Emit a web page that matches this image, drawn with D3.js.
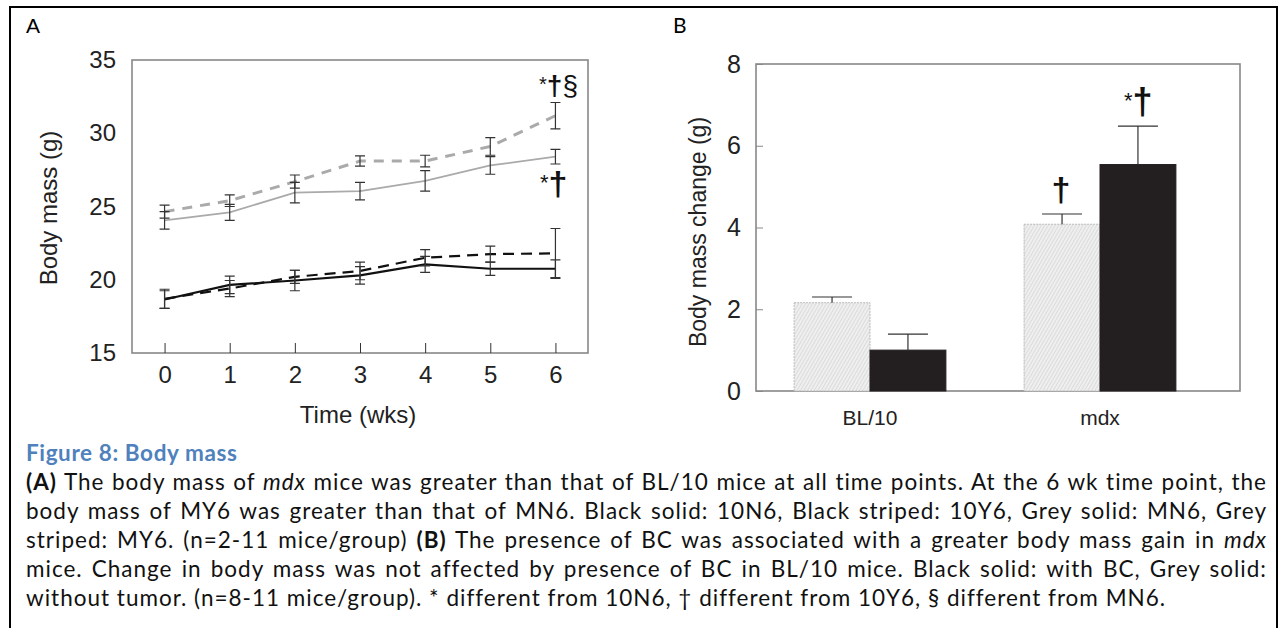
<!DOCTYPE html>
<html>
<head>
<meta charset="utf-8">
<title>Figure 8: Body mass</title>
<script src="https://d3js.org/d3.v7.min.js"></script>
<style>
    body { margin: 0; background: #fff; }
    svg { position: absolute; left: 0; top: 0; }
    .chart text { font-family: "Liberation Sans", Arial, sans-serif; fill: #222; }
    .frame { fill: none; stroke: #888; stroke-width: 1.6px; }
    .err { stroke: #333; stroke-width: 1.2px; fill: none; }
    .caption { position: absolute; left: 26px; width: 1241px; font-family: Lato, "Open Sans", sans-serif;
               font-size: 22.5px; letter-spacing: 1px; color: #111; white-space: nowrap; }
    .caption div { height: 29px; line-height: 29px; text-align: justify; text-align-last: justify; white-space: normal; }
    .caption div.last { text-align-last: left; }
    .caption .ttl { color: #4f81bd; font-weight: bold; text-align-last: left; letter-spacing: 0.6px; }
</style>
</head>
<body>
<svg width="1284" height="628"></svg>
<script>
    // panel A: body mass over time
    var weeks = [0, 1, 2, 3, 4, 5, 6];
    var blackSolid = [18.65, 19.65, 19.95, 20.3, 21.05, 20.75, 20.75];   // 10N6
    var blackSolidErr = [0.6, 0.6, 0.7, 0.6, 0.55, 0.45, 0.6];
    var blackDashed = [18.7, 19.4, 20.2, 20.6, 21.5, 21.75, 21.8];      // 10Y6
    var blackDashedErr = [0.65, 0.55, 0.45, 0.6, 0.55, 0.55, 1.7];
    var greySolid = [24.05, 24.6, 25.95, 26.05, 26.75, 27.8, 28.4];     // MN6
    var greySolidErr = [0.6, 0.55, 0.7, 0.6, 0.7, 0.6, 0.5];
    var greyDashed = [24.65, 25.4, 26.7, 28.1, 28.1, 29.1, 31.2];       // MY6
    var greyDashedErr = [0.45, 0.4, 0.45, 0.35, 0.4, 0.6, 0.9];
    var yTicksA = [15, 20, 25, 30, 35];

    // panel B: body mass change
    var groups = ["BL/10", "mdx"];
    var withoutTumor = [2.16, 4.08];
    var withoutTumorErr = [0.14, 0.25];
    var withBC = [1.0, 5.54];
    var withBCErr = [0.39, 0.94];
    var yTicksB = [0, 2, 4, 6, 8];

    var svg = d3.select("svg").attr("class", "chart");

    // page border
    svg.append("rect").attr("x", 10).attr("y", 7).attr("width", 1267).attr("height", 660)
        .attr("fill", "none").attr("stroke", "#000").attr("stroke-width", 2);

    // ---------- A ----------
    var x = d3.scaleLinear().domain([-0.5, 6.5]).range([132, 588]);
    var y = d3.scaleLinear().domain([15, 35]).range([353, 60]);

    svg.append("text").attr("x", 26).attr("y", 33).style("font-size", "21px").style("fill", "#000").text("A");

    var gA = svg.append("g");
    gA.append("rect").attr("class", "frame")
        .attr("x", x.range()[0]).attr("y", y.range()[1])
        .attr("width", x.range()[1] - x.range()[0]).attr("height", y.range()[0] - y.range()[1]);

    var xAxis = gA.append("g").attr("transform", "translate(0," + y(15) + ")")
        .call(d3.axisBottom(x).tickValues(weeks).tickSize(-10).tickPadding(13).tickFormat(d3.format("d")));
    xAxis.select(".domain").remove();
    xAxis.selectAll("line").attr("stroke", "#333");
    xAxis.selectAll("text").style("font-size", "24px");

    var yAxis = gA.append("g").attr("transform", "translate(" + x(-0.5) + ",0)")
        .call(d3.axisLeft(y).tickValues(yTicksA).tickSize(0).tickPadding(16));
    yAxis.select(".domain").remove();
    yAxis.selectAll("text").style("font-size", "24px");

    gA.append("text").attr("x", 358).attr("y", 423).attr("text-anchor", "middle")
        .style("font-size", "24px").text("Time (wks)");
    gA.append("text").attr("transform", "translate(57,208) rotate(-90)").attr("text-anchor", "middle")
        .style("font-size", "24px").text("Body mass (g)");

    var seriesA = [
        { v: greySolid, e: greySolidErr, color: "#aaa", w: 1.8, dash: null },
        { v: greyDashed, e: greyDashedErr, color: "#aaa", w: 3, dash: "10,8" },
        { v: blackDashed, e: blackDashedErr, color: "#111", w: 2.2, dash: "11,7" },
        { v: blackSolid, e: blackSolidErr, color: "#111", w: 2.2, dash: null }
    ];

    var line = d3.line().x(function (d, i) { return x(weeks[i]); }).y(function (d) { return y(d); });

    seriesA.forEach(function (s) {
        gA.append("path").datum(s.v)
            .attr("d", line)
            .attr("fill", "none")
            .attr("stroke", s.color)
            .attr("stroke-width", s.w)
            .attr("stroke-dasharray", s.dash);
    });

    seriesA.forEach(function (s) {
        gA.append("g").selectAll("path").data(s.v).enter().append("path")
            .attr("class", "err")
            .attr("d", function (d, i) {
                var cx = x(weeks[i]), hi = y(d + s.e[i]), lo = y(d - s.e[i]);
                return "M" + (cx - 5) + "," + hi + "H" + (cx + 5)
                    + "M" + cx + "," + hi + "V" + lo
                    + "M" + (cx - 5) + "," + lo + "H" + (cx + 5);
            });
    });

    // significance marks
    svg.append("text").attr("x", 539).attr("y", 95).style("font-size", "28px").style("fill", "#111")
        .html('<tspan style="font-size:20px" dy="-4">*</tspan><tspan dy="4" font-weight="bold">†</tspan><tspan>§</tspan>');
    svg.append("text").attr("x", 540).attr("y", 195).style("font-size", "34px").style("fill", "#111")
        .html('<tspan style="font-size:22px" dy="-5">*</tspan><tspan dy="5" font-weight="bold">†</tspan>');

    // ---------- B ----------
    var x0 = d3.scaleBand().domain(groups).range([755, 1215]).paddingInner(0.34).paddingOuter(0.17);
    var x1 = d3.scaleBand().domain(["without", "with"]).range([0, x0.bandwidth()]);
    var yB = d3.scaleLinear().domain([0, 8]).range([391, 64]);

    svg.append("text").attr("x", 673).attr("y", 33)
        .style("font-family", "Lato, sans-serif").style("font-size", "21px").style("fill", "#000").text("B");

    var defs = svg.append("defs");
    var pat = defs.append("pattern").attr("id", "hatch").attr("patternUnits", "userSpaceOnUse")
        .attr("width", 3).attr("height", 3).attr("patternTransform", "rotate(30)");
    pat.append("rect").attr("width", 3).attr("height", 3).attr("fill", "#efefef");
    pat.append("line").attr("x1", 0).attr("y1", 0).attr("x2", 0).attr("y2", 3)
        .attr("stroke", "#c8c8c8").attr("stroke-width", 1);

    var gB = svg.append("g");
    gB.append("rect").attr("class", "frame")
        .attr("x", 756).attr("y", yB(8)).attr("width", 1240 - 756).attr("height", yB(0) - yB(8));

    var yAxisB = gB.append("g").attr("transform", "translate(756,0)")
        .call(d3.axisLeft(yB).tickValues(yTicksB).tickSize(-7).tickPadding(15));
    yAxisB.select(".domain").remove();
    yAxisB.selectAll("line").attr("stroke", "#888");
    yAxisB.selectAll("text").style("font-size", "25px");

    gB.append("text").attr("transform", "translate(706,232) rotate(-90)").attr("text-anchor", "middle")
        .style("font-size", "23px").text("Body mass change (g)");

    gB.selectAll(".cat").data(groups).enter().append("text")
        .attr("x", function (d) { return x0(d) + x0.bandwidth() / 2; })
        .attr("y", 425).attr("text-anchor", "middle")
        .style("font-size", "21px").text(function (d) { return d; });

    var barRows = groups.map(function (g, i) {
        return [
            { g: g, key: "without", v: withoutTumor[i], e: withoutTumorErr[i] },
            { g: g, key: "with", v: withBC[i], e: withBCErr[i] }
        ];
    });
    var bars = [].concat.apply([], barRows);

    gB.selectAll(".bar").data(bars).enter().append("rect")
        .attr("x", function (d) { return x0(d.g) + x1(d.key); })
        .attr("y", function (d) { return yB(d.v); })
        .attr("width", x1.bandwidth())
        .attr("height", function (d) { return yB(0) - yB(d.v); })
        .attr("fill", function (d) { return d.key === "with" ? "#231f20" : "url(#hatch)"; })
        .attr("stroke", function (d) { return d.key === "with" ? "#231f20" : "#bbb"; })
        .attr("stroke-dasharray", function (d) { return d.key === "with" ? null : "2,1"; })
        .attr("stroke-width", 1);

    gB.selectAll(".errb").data(bars).enter().append("path")
        .attr("class", "err")
        .attr("d", function (d) {
            var cx = x0(d.g) + x1(d.key) + x1.bandwidth() / 2, hi = yB(d.v + d.e);
            return "M" + cx + "," + yB(d.v) + "V" + hi + "M" + (cx - 20) + "," + hi + "H" + (cx + 20);
        });

    // marks over mdx bars
    svg.append("text").attr("x", 1061).attr("y", 201).attr("text-anchor", "middle")
        .style("font-size", "34px").style("font-weight", "bold").style("fill", "#111").text("†");
    svg.append("text").attr("x", 1124).attr("y", 114).style("font-size", "36px").style("fill", "#111")
        .html('<tspan style="font-size:22px" dy="-6">*</tspan><tspan dy="6" font-weight="bold">†</tspan>');

    // ---------- caption ----------
    var capLines = [
        '<b>(A)</b> The body mass of <i>mdx</i> mice was greater than that of BL/10 mice at all time points. At the 6 wk time point, the',
        'body mass of MY6 was greater than that of MN6. Black solid: 10N6, Black striped: 10Y6, Grey solid: MN6, Grey',
        'striped: MY6. (n=2-11 mice/group) <b>(B)</b> The presence of BC was associated with a greater body mass gain in <i>mdx</i>',
        'mice. Change in body mass was not affected by presence of BC in BL/10 mice. Black solid: with BC, Grey solid:',
        'without tumor. (n=8-11 mice/group). * different from 10N6, † different from 10Y6, § different from MN6.'
    ];
    var cap = d3.select("body").append("div").attr("class", "caption").style("top", "438px");
    cap.append("div").attr("class", "ttl").text("Figure 8: Body mass");
    cap.selectAll(".ln").data(capLines).enter().append("div")
        .attr("class", function (d, i) { return i === capLines.length - 1 ? "ln last" : "ln"; })
        .html(function (d) { return d; });
</script>
</body>
</html>
